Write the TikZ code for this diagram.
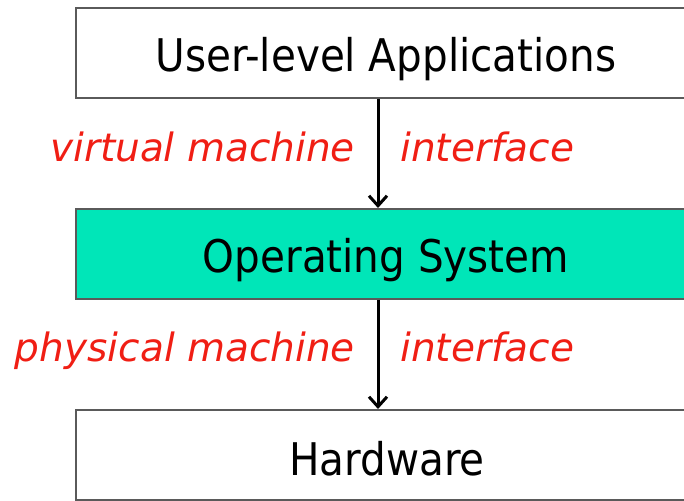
\documentclass[tikz,border=0pt]{standalone}
\usepackage{fontspec}
\setmainfont{DejaVu Sans}
\newfontfamily\boxfont{DejaVu Sans Condensed}
\usetikzlibrary{arrows.meta}
\definecolor{osgreen}{RGB}{0,230,184}
\definecolor{lblred}{RGB}{240,30,20}
\definecolor{edge}{RGB}{90,90,90}
\begin{document}
\begin{tikzpicture}[x=1pt,y=1pt,
  layer/.style={draw=edge,line width=2pt,minimum width=624pt,minimum height=90pt,inner sep=0pt},
  ltext/.style={anchor=base,inner sep=0pt,font=\boxfont\fontsize{45}{52}\selectfont},
  lbl/.style={text=lblred,font=\fontsize{39}{46}\selectfont\itshape,inner sep=0pt},
  flow/.style={line width=3pt,-{Straight Barb[length=10pt,width=18pt,line width=3pt]}}]
\useasboundingbox (0,0) rectangle (684,500);
\node[layer,fill=white] (apps) at (388,447) {};
\node[layer,fill=osgreen] (os) at (388,246) {};
\node[layer,fill=white] (hw) at (388,45) {};
\node[ltext] (tapps) at (386,428) {User-level Applications};
\node[ltext] (tos) at (386,227) {Operating System};
\node[ltext] (thw) at (387,25) {Hardware};
\draw[flow] ([xshift=-10pt]apps.south) -- ([xshift=-10pt]os.north);
\draw[flow] ([xshift=-10pt]os.south) -- ([xshift=-10pt]hw.north);
\node[lbl,anchor=base east] (vm) at (355,338) {virtual machine};
\node[lbl,anchor=base west] (vi) at (400,338) {interface};
\node[lbl,anchor=base east] (pm) at (355,138) {physical machine};
\node[lbl,anchor=base west] (pi) at (400,138) {interface};
\end{tikzpicture}
\end{document}
